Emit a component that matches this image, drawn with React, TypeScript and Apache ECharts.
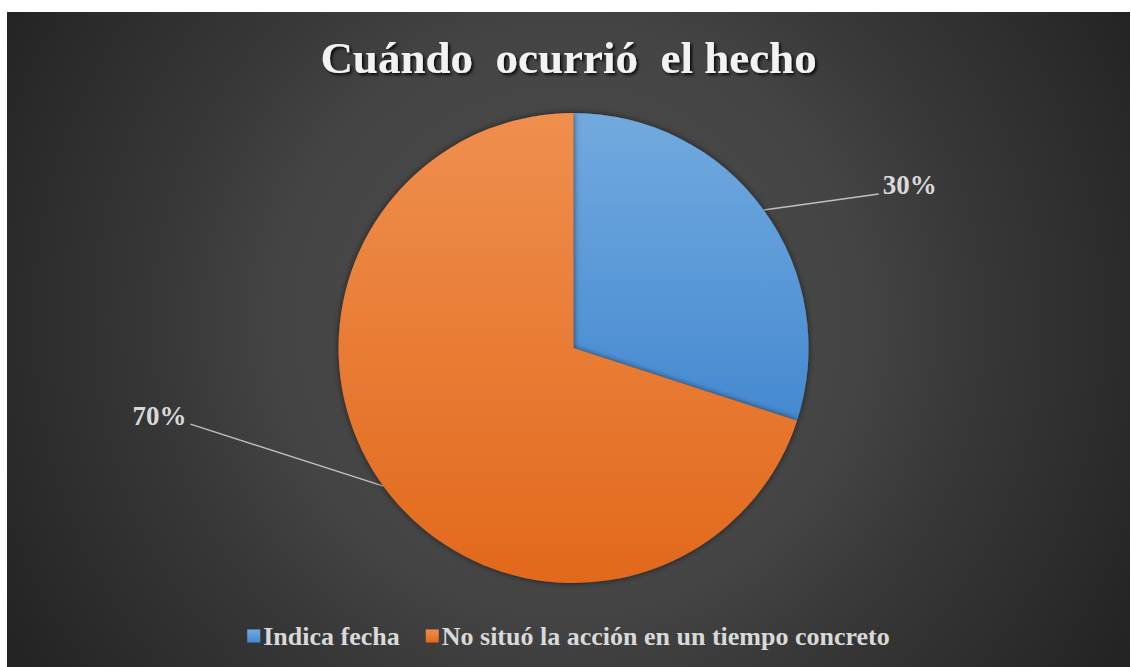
import React, { useEffect, useRef } from "react";
import * as echarts from "echarts";

const titleText = "Cuándo  ocurrió  el hecho";
const categories = ["Indica fecha", "No situó la acción en un tiempo concreto"];
const shares = [30, 70];
const topColors = ["#72aadf", "#ef8f4e"];
const bottomColors = ["#4589d1", "#e2691c"];

const SERIF = "'Liberation Serif', 'Times New Roman', serif";

export default function App() {
  const ref = useRef<HTMLDivElement>(null);

  useEffect(() => {
    const el = ref.current!;
    const chart = echarts.init(el, undefined, { renderer: "svg" });
    const w = el.clientWidth;
    const h = el.clientHeight;

    // soft spotlight behind the pie
    const bg = new echarts.graphic.RadialGradient(
      w / 2,
      h * 0.47,
      Math.hypot(w, h) / 2,
      [
        { offset: 0, color: "#4e4e4e" },
        { offset: 0.45, color: "#444444" },
        { offset: 0.62, color: "#383838" },
        { offset: 0.86, color: "#2b2b2b" },
        { offset: 1, color: "#232323" },
      ],
      true
    );

    chart.setOption({
      animation: false,
      backgroundColor: bg,
      title: {
        text: titleText,
        left: "center",
        top: 18,
        textStyle: {
          fontFamily: SERIF,
          fontSize: 45,
          fontWeight: "bold",
          color: "#f2f2f2",
          textShadowColor: "rgba(0,0,0,0.85)",
          textShadowBlur: 3,
          textShadowOffsetX: 2,
          textShadowOffsetY: 2,
        },
      },
      legend: {
        bottom: 13,
        left: "center",
        icon: "rect",
        itemWidth: 13,
        itemHeight: 13,
        itemGap: 26,
        textStyle: {
          fontFamily: SERIF,
          fontSize: 26,
          fontWeight: "bold",
          color: "#d9d9d9",
          padding: [0, 0, 0, -2],
        },
        data: categories,
      },
      series: [
        {
          type: "pie",
          center: ["50.45%", "51.3%"],
          radius: 235,
          startAngle: 90,
          clockwise: true,
          avoidLabelOverlap: false,
          data: categories.map((name, i) => ({
            name,
            value: shares[i],
            itemStyle: {
              color: new echarts.graphic.LinearGradient(0, 0, 0, 1, [
                { offset: 0, color: topColors[i] },
                { offset: 1, color: bottomColors[i] },
              ]),
            },
          })),
          itemStyle: {
            borderWidth: 0,
            shadowBlur: 6,
            shadowColor: "rgba(0,0,0,0.6)",
          },
          label: {
            show: true,
            position: "outside",
            formatter: (p: any) => `${p.value}%`,
            fontFamily: SERIF,
            fontSize: 27,
            fontWeight: "bold",
            color: "#d9d9d9",
          },
          labelLine: {
            show: true,
            lineStyle: { color: "#bfbfbf", width: 1.5 },
          },
          // straight leader lines running from the slice edge to each label
          labelLayout: (params: any) => {
            const p0 = params.labelLinePoints[0];
            if (params.dataIndex === 0) {
              const end = [p0[0] + 115, p0[1] - 16];
              return {
                x: p0[0] + 119,
                y: p0[1] - 25,
                align: "left",
                verticalAlign: "middle",
                labelLinePoints: [[p0[0], p0[1]], end, end.slice()],
              };
            }
            const end = [p0[0] - 193, p0[1] - 62];
            return {
              x: p0[0] - 197,
              y: p0[1] - 70,
              align: "right",
              verticalAlign: "middle",
              labelLinePoints: [[p0[0], p0[1]], end, end.slice()],
            };
          },
        },
      ],
    });

    return () => chart.dispose();
  }, []);

  return (
    <div
      ref={ref}
      style={{ position: "absolute", left: 7, top: 12, width: 1123, height: 655 }}
    />
  );
}
